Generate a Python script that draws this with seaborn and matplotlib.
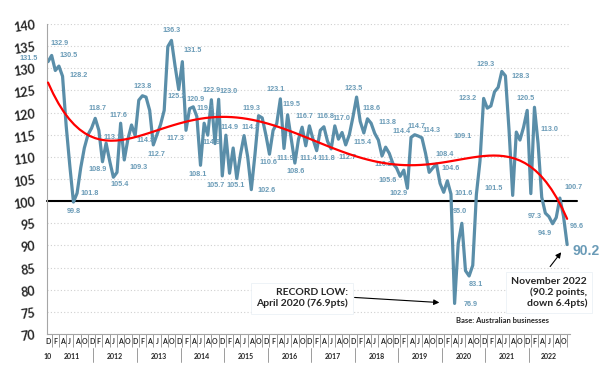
import numpy as np
import pandas as pd
import seaborn as sns
import matplotlib
matplotlib.use("Agg")
import matplotlib.pyplot as plt
import matplotlib.transforms as mtransforms
import warnings

warnings.filterwarnings("ignore")

# Business confidence, monthly from Dec 2010 to Nov 2022
first_month = "2010-12-01"
confidence = [
    131.5, 132.9, 129.5, 130.5, 128.2, 117.0, 108.0, 99.8, 101.8, 107.5,
    112.0, 115.0, 116.5, 118.7, 116.0, 108.9, 113.1, 109.0, 105.4, 106.5,
    117.6, 109.3, 114.0, 117.2, 114.8, 122.8, 123.8, 123.5, 120.5, 112.7,
    115.0, 117.3, 120.5, 134.9, 136.3, 130.5, 125.2, 131.5, 116.0, 120.9,
    121.3, 119.1, 108.1, 117.6, 114.9, 122.9, 113.0, 123.0, 105.7, 114.9,
    106.3, 112.0, 105.1, 110.5, 114.8, 110.0, 102.6, 110.5, 119.3, 118.8,
    115.0, 110.6, 116.0, 117.5, 123.1, 111.9, 119.5, 114.0, 108.6, 114.0,
    116.7, 112.5, 117.0, 114.0, 111.4, 116.0, 116.8, 113.5, 111.8, 117.0,
    114.0, 115.5, 112.7, 115.0, 119.0, 123.5, 118.0, 115.4, 118.6, 117.6,
    115.3, 113.8, 110.2, 112.2, 110.8, 108.5, 107.5, 105.6, 107.0, 102.9,
    114.4, 115.0, 114.7, 114.3, 110.8, 106.5, 107.5, 108.4, 104.0, 102.0,
    104.6, 101.6, 76.9, 90.5, 95.0, 84.3, 83.1, 85.5, 101.5, 109.1,
    123.2, 121.0, 121.5, 124.7, 125.7, 129.3, 128.3, 116.0, 101.3, 115.6,
    113.8, 116.7, 120.5, 101.7, 121.2, 113.0, 100.9, 97.3, 96.5, 94.9,
    96.3, 100.7, 96.6, 90.2,
]
y_ticks = list(range(70, 141, 5))
year_labels = ["10"] + [str(y) for y in range(2011, 2023)]

# where each value label sits, in pixels from its point
label_offsets = {
    0: (-19, 3), 1: (8, 12), 3: (10, 11), 4: (16, 1), 7: (0, -9),
    8: (13, 0), 13: (2, 10), 15: (-5, -8), 16: (6, 6), 18: (6, -7),
    20: (-2, 8), 21: (14, -8), 24: (10, -5), 26: (0, 9), 29: (3, -10),
    31: (15, -14), 34: (0, 10), 36: (-2, -7), 37: (10, 11), 39: (6, 9),
    41: (9, 8), 42: (-3, -9), 44: (4, -7), 45: (0, 9), 47: (10, 8),
    48: (-7, -10), 49: (4, 8), 52: (-1, -7), 54: (6, 8), 56: (15, -1),
    58: (-7, 7), 61: (-1, -8), 64: (-5, 9), 65: (1, -10), 66: (4, 10),
    68: (1, -8), 70: (2, 11), 74: (-8, -8), 76: (2, 10), 78: (-5, -10),
    79: (7, 7), 82: (2, -13), 85: (-3, 9), 87: (-1, -10), 88: (4, 10),
    91: (9, 18), 92: (1, -9), 97: (-13, -4), 99: (-9, -5), 100: (-9, 6),
    102: (-2, 10), 103: (10, 7), 107: (8, 9), 110: (3, 12), 111: (13, 1),
    112: (16, -1), 114: (-2, 12), 116: (7, -9), 118: (17, 6), 119: (-17, 24),
    120: (-16, 0), 125: (-16, 7), 126: (15, -1), 132: (-2, 12), 135: (11, 14),
    137: (-11, -3), 139: (-8, -10), 141: (14, 11), 142: (13, -10),
}

BLUE = "#5a8ea9"
LABEL_BLUE = "#6a9bb7"

sns.set_style("white")
plt.rcParams["font.family"] = ["Liberation Sans", "DejaVu Sans"]

dates = pd.date_range(first_month, periods=len(confidence), freq="MS")
df = pd.DataFrame({"month": np.arange(len(confidence)), "value": confidence,
                   "date": dates})

fig = plt.figure(figsize=(6.02, 3.66), dpi=100)
ax = fig.add_axes([0.0781, 0.0874, 0.8688, 0.847])

sns.lineplot(data=df, x="month", y="value", color=BLUE, lw=2.3, ax=ax,
             zorder=2)
# smooth trend through the monthly series
sns.regplot(data=df, x="month", y="value", order=5, scatter=False, ci=None,
            color="red", line_kws=dict(lw=1.6, zorder=3), ax=ax)

ax.set_xlim(-0.28, 143.8)
ax.set_ylim(70, 140)
ax.axhline(100, color="black", lw=1.5, xmax=1.0134, clip_on=False, zorder=1.5)

ax.set_yticks(y_ticks)
ax.set_yticklabels([str(t) for t in y_ticks], fontsize=9, fontweight="bold",
                   family="Lato", rotation=8)
ax.tick_params(axis="y", length=0, pad=8)
ax.grid(axis="y", linestyle=(0, (1, 2)), color="#d0d0d0", lw=0.8)
ax.set_xlabel("")
ax.set_ylabel("")

even = df["month"][::2]
ax.set_xticks(even)
ax.set_xticklabels(df["date"].dt.strftime("%b").str[0][::2], fontsize=5,
                   fontweight="bold", family="Lato")
ax.set_xticks(df["month"][1::2], minor=True)
ax.tick_params(axis="x", which="major", length=0, pad=3)
ax.tick_params(axis="x", which="minor", length=9, width=0.6, color="#8c8c8c",
               bottom=True)

for side in ["top", "right"]:
    ax.spines[side].set_visible(False)
for side in ["left", "bottom"]:
    ax.spines[side].set_color("#a6a6a6")
    ax.spines[side].set_linewidth(0.8)

trans = mtransforms.blended_transform_factory(ax.transData, ax.transAxes)
years = df["date"].dt.year
for lab, (yr, grp) in zip(year_labels, df.groupby(years)):
    ax.text(grp["month"].mean(), -0.074, lab, transform=trans, ha="center",
            va="center", fontsize=5, fontweight="bold", family="Lato")
    if yr > 2011:
        x0 = grp["month"].min() - 0.5
        ax.plot([x0, x0], [-0.045, -0.09], transform=trans, color="#8c8c8c",
                lw=0.6, clip_on=False)

for m, (dx, dy) in label_offsets.items():
    ax.annotate(f"{confidence[m]:.1f}", (m, confidence[m]), xytext=(dx, dy),
                textcoords="offset pixels", ha="center", va="center",
                fontsize=5.2, fontweight="bold", color=LABEL_BLUE, zorder=2.5)

last = len(confidence) - 1
ax.annotate(f"{confidence[last]:.1f}", (last, confidence[last]),
            xytext=(19, -6), textcoords="offset pixels", ha="center",
            va="center", fontsize=10, fontweight="bold", color=LABEL_BLUE,
            annotation_clip=False)

low = int(np.argmin(confidence))
box = dict(boxstyle="square,pad=0.5", fc="white", ec="#e8eef4", lw=0.5)
ax.annotate("RECORD LOW:\nApril 2020 (76.9pts)", (low, confidence[low]),
            xytext=(-107, 5), textcoords="offset pixels", ha="right",
            va="center", multialignment="right", fontsize=7.5,
            fontweight="bold", family="Lato", bbox=box)
ax.annotate("", (low, confidence[low]), xytext=(-100, 6),
            textcoords="offset pixels",
            arrowprops=dict(arrowstyle="-|>", color="black", lw=0.8,
                            shrinkA=0, shrinkB=11, mutation_scale=8))

ax.annotate("November 2022\n(90.2 points,\ndown 6.4pts)",
            (last, confidence[last]), xytext=(20, -48),
            textcoords="offset pixels", ha="right", va="center",
            multialignment="right", fontsize=7.5, fontweight="bold",
            family="Lato", bbox=box, annotation_clip=False)
ax.annotate("", (last, confidence[last]), xytext=(-17, -22),
            textcoords="offset pixels",
            arrowprops=dict(arrowstyle="-|>", color="black", lw=0.8,
                            shrinkA=0, shrinkB=7, mutation_scale=8))

ax.text(0.87, 0.042, "Base: Australian businesses", transform=ax.transAxes,
        ha="center", va="center", fontsize=5.5, fontweight="bold",
        family="Lato")

fig.savefig("out.png", dpi=100)
